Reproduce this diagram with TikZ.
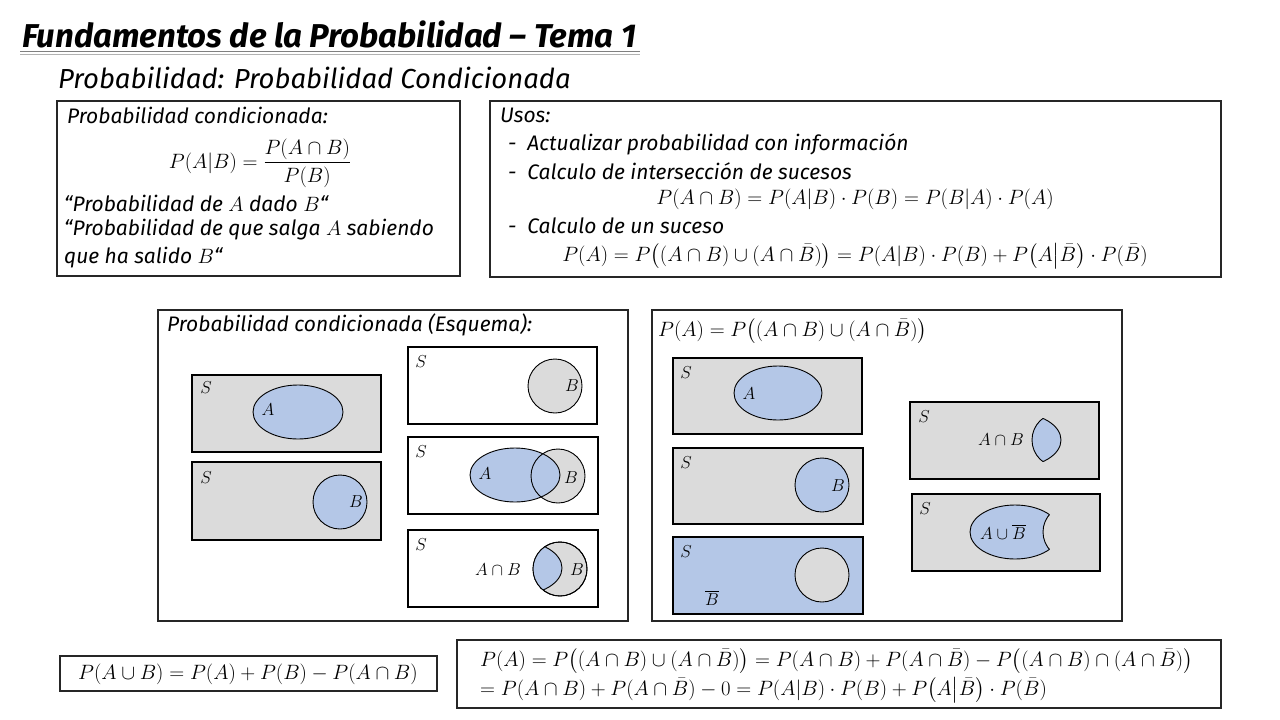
\documentclass[tikz,border=0pt]{standalone}
\usepackage{amsmath}
\usepackage{fontspec}
\newfontfamily\hand{Fira Sans}
\begin{document}
\begin{tikzpicture}[x=1pt,y=-1pt,
  box/.style={draw=black!85,line width=1.3pt},
  sq/.style={draw=black,line width=1.2pt},
  grayf/.style={fill=gray!28},
  bluef/.style={fill={rgb,255:red,180;green,199;blue,231}},
  ln/.style={draw=black,line width=0.9pt},
  hw/.style={font=\hand\itshape\fontsize{21}{24}\selectfont,anchor=west,inner sep=0pt},
  mt/.style={font=\fontsize{20}{24}\selectfont,inner sep=0pt},
  sl/.style={font=\fontsize{18}{20}\selectfont,inner sep=0pt}]
\useasboundingbox (0,0) rectangle (1280,720);
\colorlet{blu}{rgb,255:red,180;green,199;blue,231}
% titles
\node[hw,font=\hand\itshape\bfseries\fontsize{33}{36}\selectfont] (title) at (22,34) {Fundamentos de la Probabilidad – Tema 1};
\draw[gray,line width=1pt] (20,51) -- (640,51);
\draw[gray!60,line width=1pt] (20,54) -- (640,54);
\node[hw,font=\hand\itshape\fontsize{27.5}{30}\selectfont] (sub) at (58,78) {Probabilidad: Probabilidad Condicionada};
% box 1
\draw[box] (57,101) rectangle (460,276);
\node[hw] (b1t) at (67,115) {Probabilidad condicionada:};
\node[mt] (f1) at (260,163) {$P(A|B)=\dfrac{P(A\cap B)}{P(B)}$};
\node[hw] (q1) at (64,203) {“Probabilidad de $A$ dado $B$“};
\node[hw] (q2) at (64,230) {“Probabilidad de que salga $A$ sabiendo};
\node[hw] (q3) at (64,258) {que ha salido $B$“};
% box 2
\draw[box] (490,101) rectangle (1221,277);
\node[hw] (u) at (500,115) {Usos:};
\node[hw] (u1) at (508,144) {- \ Actualizar probabilidad con información};
\node[hw] (u2) at (508,171) {- \ Calculo de intersección de sucesos};
\node[mt] (f2) at (855,199) {$P(A\cap B)=P(A|B)\cdot P(B)=P(B|A)\cdot P(A)$};
\node[hw] (u3) at (508,226) {- \ Calculo de un suceso};
\node[mt] (f3) at (855,256) {$P(A)=P\big((A\cap B)\cup(A\cap\bar B)\big)=P(A|B)\cdot P(B)+P\big(A\big|\bar B\big)\cdot P(\bar B)$};
% box 3
\draw[box] (158,310) rectangle (628,621);
\node[hw] (b3t) at (167,325) {Probabilidad condicionada (Esquema):};
\draw[sq,grayf] (192,375) rectangle (381,452);
\draw[ln,bluef] (298,412) ellipse (45 and 27);
\node[sl] (s1) at (206,388) {$S$}; \node[sl] (a1) at (268,410) {$A$};
\draw[sq,grayf] (192,462) rectangle (381,540);
\draw[ln,bluef] (340,502) circle (27);
\node[sl] (s2) at (206,478) {$S$}; \node[sl] (b2) at (356,502) {$B$};
\draw[sq] (408,347) rectangle (597,424);
\draw[ln,grayf] (555,386) circle (27);
\node[sl] (s3) at (421,362) {$S$}; \node[sl] (b3) at (572,386) {$B$};
\draw[sq] (408,437) rectangle (598,514);
\fill[gray!28] (558,476) circle (27);
\fill[blu] (515,475) ellipse (45 and 27);
\draw[ln] (515,475) ellipse (45 and 27);
\draw[ln] (558,476) circle (27);
\node[sl] (s4) at (421,452) {$S$}; \node[sl] (a4) at (485,474) {$A$}; \node[sl] (b4) at (571,478) {$B$};
\draw[sq] (408,530) rectangle (598,607);
\draw[ln,grayf] (560,569) circle (27);
\begin{scope}\clip (560,569) circle (27);
\draw[ln,bluef] (517,568) ellipse (45 and 27);\end{scope}
\draw[ln] (560,569) circle (27);
\node[sl] (s5) at (421,545) {$S$}; \node[sl] (l5) at (498,570) {$A\cap B$}; \node[sl] (b5) at (577,570) {$B$};
% box 4
\draw[box] (652,310) rectangle (1122,621);
\node[mt,anchor=west] (f4) at (658,331) {$P(A)=P\big((A\cap B)\cup(A\cap\bar B)\big)$};
\draw[sq,grayf] (673,358) rectangle (862,434);
\draw[ln,bluef] (778,393) ellipse (44 and 27);
\node[sl] (s6) at (686,373) {$S$}; \node[sl] (a6) at (749,394) {$A$};
\draw[sq,grayf] (673,448) rectangle (863,524);
\draw[ln,bluef] (822,485) circle (27);
\node[sl] (s7) at (686,463) {$S$}; \node[sl] (b7) at (838,486) {$B$};
\draw[sq,bluef] (673,537) rectangle (863,614);
\draw[ln,grayf] (822,575) circle (27);
\node[sl] (s8) at (686,552) {$S$}; \node[sl] (b8) at (712,598) {$\overline{B}$};
\draw[sq,grayf] (910,402) rectangle (1099,479);
\begin{scope}\clip (1016,440) ellipse (45 and 27);
\draw[ln,bluef] (1059,440) circle (27);\end{scope}
\begin{scope}\clip (1059,440) circle (27);
\draw[ln] (1016,440) ellipse (45 and 27);\end{scope}
\node[sl] (s9) at (924,417) {$S$}; \node[sl] (l9) at (1001,440) {$A\cap B$};
\draw[sq,grayf] (912,494) rectangle (1100,571);
\begin{scope}[even odd rule]
\clip (912,494) rectangle (1100,571) (1070,532) circle (27);
\draw[ln,bluef] (1015,532) ellipse (45 and 27);
\end{scope}
\begin{scope}\clip (1015,532) ellipse (45 and 27);
\draw[ln] (1070,532) circle (27);\end{scope}
\node[sl] (s10) at (925,509) {$S$}; \node[sl] (l10) at (1003,532) {$A\cup\overline{B}$};
% box 5
\draw[box] (60,656) rectangle (437,691);
\node[mt] (f5) at (248,674) {$P(A\cup B)=P(A)+P(B)-P(A\cap B)$};
% box 6
\draw[box] (457,640) rectangle (1221,708);
\node[mt,anchor=west] (f6) at (480,661) {$P(A)=P\big((A\cap B)\cup(A\cap\bar B)\big)=P(A\cap B)+P(A\cap\bar B)-P\big((A\cap B)\cap(A\cap\bar B)\big)$};
\node[mt,anchor=west] (f7) at (480,690) {$=P(A\cap B)+P(A\cap\bar B)-0=P(A|B)\cdot P(B)+P\big(A\big|\bar B\big)\cdot P(\bar B)$};
\end{tikzpicture}
\end{document}
